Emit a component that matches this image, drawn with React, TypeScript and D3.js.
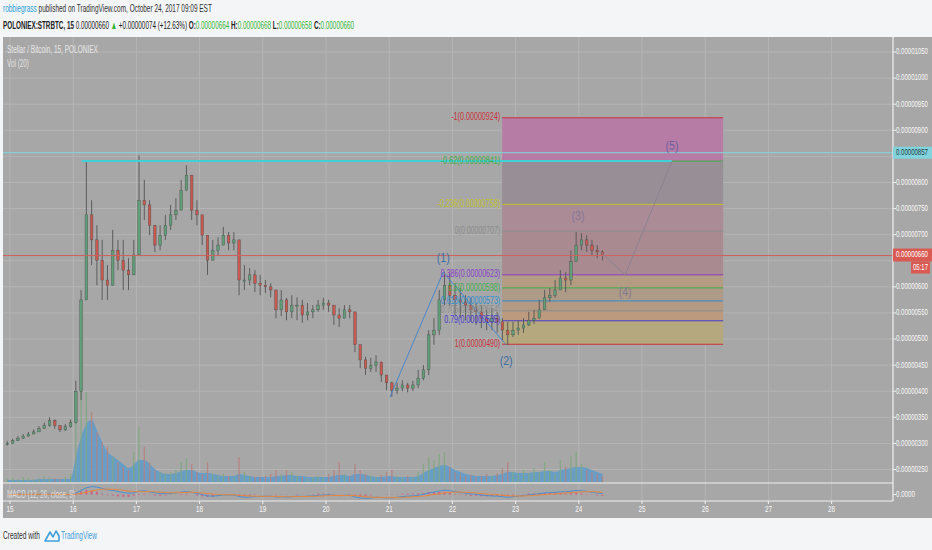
import React, { useRef, useEffect } from 'react';
import * as d3 from 'd3';

// 2-hour candles, first one starts Oct 14 22:00, prices in units of 1e-8 BTC
const closes = [
  300, 305, 310, 314, 318, 322, 328, 334, 344, 334, 326, 332, 340,
  400, 575, 738, 690, 651, 613, 603, 670, 651, 632, 623, 661,
  766, 757, 718, 680, 699, 718, 738, 747, 785, 814,
  747, 738, 699, 651, 670, 680, 699, 684, 690, 613,
  613, 623, 607, 603, 600, 594, 556, 575, 552, 565,
  565, 546, 552, 556, 565, 569, 565, 546, 540, 556, 552,
  489, 460, 444, 450, 456, 431, 416, 402, 406, 412, 406, 412,
  425, 441, 508, 517, 575, 603,
  584, 575, 571, 565, 556, 552, 540, 533, 540, 533, 517, 508,
  517, 521, 527, 536, 540, 556, 579, 584, 594, 617, 613, 648,
  680, 690, 680, 670, 667, 660,
];
const highs = [
  304, 309, 314, 318, 322, 327, 333, 340, 350, 346, 332, 337, 346,
  420, 594, 839, 766, 718, 690, 642, 709, 690, 690, 655, 690,
  852, 805, 766, 718, 718, 738, 757, 770, 805, 833,
  805, 766, 738, 690, 690, 695, 715, 705, 705, 674,
  642, 636, 632, 623, 613, 607, 588, 594, 579, 584,
  580, 575, 569, 565, 575, 579, 575, 565, 559, 565, 565,
  546, 479, 466, 464, 469, 450, 431, 418, 416, 421, 416, 420,
  441, 450, 517, 540, 594, 628,
  626, 605, 598, 584, 579, 569, 565, 556, 559, 552, 540, 533,
  533, 536, 540, 552, 556, 575, 594, 598, 613, 632, 628, 670,
  705, 703, 699, 690, 680, 670,
];
const lows = [
  296, 300, 305, 309, 313, 318, 322, 328, 332, 328, 322, 324, 330,
  338, 383, 575, 642, 603, 575, 575, 603, 632, 594, 594, 632,
  661, 728, 699, 667, 670, 690, 709, 728, 757, 785,
  728, 718, 680, 623, 655, 661, 680, 670, 670, 584,
  594, 603, 590, 584, 588, 580, 540, 544, 536, 540,
  536, 531, 536, 540, 552, 556, 552, 527, 523, 540, 540,
  475, 444, 431, 437, 437, 418, 402, 389, 395, 400, 398, 400,
  406, 421, 431, 489, 508, 565,
  565, 546, 540, 536, 533, 527, 521, 517, 517, 512, 498, 489,
  504, 508, 512, 525, 529, 540, 559, 571, 579, 598, 590, 603,
  648, 670, 667, 659, 655, 651,
];
const firstOpen = 298;

const volumes = [
  3, 4, 3, 5, 4, 3, 4, 6, 5, 4, 3, 5, 8,
  60, 100, 90, 70, 50, 40, 35, 25, 20, 15, 12, 30,
  55, 35, 20, 12, 10, 9, 10, 12, 20, 24,
  18, 10, 8, 20, 8, 6, 8, 6, 5, 25,
  10, 6, 5, 5, 6, 8, 12, 8, 12, 10,
  6, 5, 4, 5, 6, 5, 8, 12, 20, 8, 6,
  18, 12, 8, 6, 5, 7, 10, 12, 6, 5, 6, 5,
  10, 18, 25, 22, 28, 30,
  15, 10, 8, 6, 7, 5, 6, 8, 6, 9, 14, 20,
  10, 8, 12, 9, 14, 10, 20, 12, 8, 22, 15, 26,
  30, 18, 12, 10, 8, 6,
];
const volumeMA = [
  2, 2, 2, 2, 2, 2, 3, 3, 3, 3, 3, 3, 3,
  25, 45, 58, 62, 52, 40, 30, 26, 22, 18, 14, 17,
  22, 22, 18, 13, 10, 8, 8, 9, 11, 12,
  12, 10, 9, 9, 8, 7, 6, 6, 6, 8,
  7, 6, 5, 5, 5, 5, 6, 6, 7, 7,
  6, 6, 5, 5, 5, 5, 5, 6, 7, 7, 6,
  8, 8, 7, 6, 5, 5, 6, 6, 5, 5, 5, 5,
  6, 9, 12, 14, 16, 17,
  15, 12, 10, 8, 7, 6, 6, 6, 6, 7, 8, 10,
  10, 9, 9, 9, 10, 10, 11, 11, 10, 12, 13, 14,
  15, 15, 14, 12, 10, 8,
];
const macdLine = [
  1, 1, 1, 1, 1, 1, 1, 2, 2, 1, 0, 0, 1,
  10, 30, 50, 58, 55, 45, 35, 30, 22, 15, 10, 12,
  25, 28, 20, 12, 8, 8, 10, 12, 18, 22,
  16, 8, 0, -10, -12, -8, -4, -4, -3, -15,
  -20, -18, -15, -14, -12, -12, -18, -16, -18, -16,
  -12, -14, -12, -10, -6, -4, -3, -5, -8, -6, -4,
  -18, -25, -28, -25, -20, -22, -24, -24, -20, -15, -12, -10,
  -6, 0, 12, 18, 26, 32,
  28, 22, 15, 10, 5, 2, -4, -8, -10, -12, -16, -20,
  -16, -12, -8, -2, 2, 6, 12, 14, 16, 20, 20, 24,
  30, 28, 24, 18, 12, 8,
];
const signalLine = [
  1, 1, 1, 1, 1, 1, 1, 1, 1, 1, 1, 1, 1,
  3, 8, 16, 26, 34, 39, 40, 38, 35, 31, 26, 22,
  21, 22, 22, 20, 17, 15, 13, 13, 14, 16,
  16, 15, 12, 7, 3, 0, -1, -2, -2, -5,
  -8, -11, -12, -13, -13, -13, -14, -15, -16, -16,
  -15, -15, -14, -13, -12, -10, -8, -7, -7, -7, -6,
  -8, -12, -16, -19, -20, -21, -22, -23, -22, -21, -19, -17,
  -14, -11, -6, 0, 6, 12,
  16, 18, 18, 16, 14, 11, 8, 4, 1, -2, -5, -8,
  -10, -11, -10, -9, -6, -3, 0, 3, 6, 9, 12, 14,
  17, 20, 21, 21, 19, 17,
];

const dayLabels = ['15', '16', '17', '18', '19', '20', '21', '22', '23', '24', '25', '26', '27', '28'];
const priceTicks = [250, 300, 350, 400, 450, 500, 550, 600, 650, 700, 750, 800, 850, 900, 950, 1000, 1050];
const lastPrice = 660;
const markedPrice = 857;

// fibonacci extension drawing
const fibLevels = ['-1', '-0.62', '-0.236', '0', '0.386', '0.5', '0.618', '0.705', '0.79', '1'];
const fibPrices = [924, 841, 758, 707, 623, 598, 573, 554, 535, 490];
const fibColors = ['#c8323c', '#3fae49', '#c2c22a', '#8c8c8c', '#8a3cc8', '#3fae49', '#2e8fd0', '#8c8c8c', '#4a3acb', '#c8323c'];
const fibFills = ['#b77ca6', '#978f95', '#ab8b95', '#a88a90', '#b49c82', '#ad9b88', '#b59a83', '#bb9a7e', '#b5a87e'];
const fibStartHour = 186.9;
const fibEndHour = 270.8;

// elliott wave drawing (hours from Oct 15 00:00, price)
const impulseHours = [144.3, 164.5, 188.4];
const impulsePrices = [389, 628, 489];
const projectionHours = [223.6, 233.6, 251.4];
const projectionPrices = [670, 623, 841];
const waveLabels = ['(1)', '(2)', '(3)', '(4)', '(5)'];
const waveHours = [164.5, 188.4, 215.7, 233.6, 251.4];
const wavePrices = [628, 489, 707, 623, 841];
const waveOffsets = [-14, 17, -14, 18, -15];
const waveColors = ['#3d6fa8', '#3d6fa8', '#85779a', '#85778d', '#6e5fa0'];

const FONT = '"Liberation Sans Narrow", "Arial Narrow", "Liberation Sans", Arial, sans-serif';

type Sel = d3.Selection<SVGSVGElement, unknown, null, undefined>;
type G = d3.Selection<SVGGElement, unknown, null, undefined>;

const fit = (t: d3.Selection<SVGTextElement, unknown, null, undefined>, x: number, y: number, len: number) => {
  if (len) {
    const w = (t.node() as SVGTextElement).getComputedTextLength();
    if (w > 0) t.attr('transform', `translate(${x},${y}) scale(${len / w},1)`);
  }
  return t;
};

// text squeezed horizontally to a measured width (the original uses a condensed font)
const txt = (g: G, x: number, y: number, s: string, size: number, fill: string, len = 0, anchor = 'start') => {
  const t = g.append('text')
    .attr('x', 0).attr('y', 0)
    .attr('font-family', FONT)
    .attr('font-size', size)
    .attr('fill', fill)
    .attr('text-anchor', anchor)
    .attr('dominant-baseline', 'middle')
    .attr('transform', `translate(${x},${y})`)
    .text(s);
  return fit(t, x, y, len);
};

const createChart = (svg: Sel): void => {
  svg.selectAll('*').remove();
  const W = 932;
  const plotL = 3, plotR = 893, top = 37, priceBottom = 483, macdBottom = 501, axisBottom = 518;

  const x = d3.scaleLinear().domain([0, 312]).range([10, 831.6]);
  const y = d3.scaleLinear().domain([250, 1050]).range([469.5, 52]);
  const yVol = d3.scaleLinear().domain([0, 100]).range([482, 382]);
  const yMacd = d3.scaleLinear().domain([-40, 70]).range([500, 485]);

  const root = svg.append('g');
  root.append('rect').attr('width', W).attr('height', 550).attr('fill', '#f3f5f6');

  // header
  const h1 = txt(root, 3, 10, '', 11, '#333');
  h1.append('tspan').attr('fill', '#2e9fd8').text('robbiegrass');
  h1.append('tspan').text(' published on TradingView.com, October 24, 2017 09:09 EST');
  fit(h1, 3, 10, 209);
  const h2 = txt(root, 3, 27, '', 11, '#222').attr('font-weight', 'bold');
  const green = '#35b335';
  h2.append('tspan').text('POLONIEX:STRBTC, 15 ');
  h2.append('tspan').attr('font-weight', 'normal').text('0.00000660 ');
  h2.append('tspan').attr('fill', green).text('\u25B2');
  h2.append('tspan').attr('font-weight', 'normal').text(' +0.00000074 (+12.63%) ');
  [['O:', '0.00000664 '], ['H:', '0.00000668 '], ['L:', '0.00000658 '], ['C:', '0.00000660']].forEach(([k, v]) => {
    h2.append('tspan').text(k);
    h2.append('tspan').attr('fill', green).attr('font-weight', 'normal').text(v);
  });
  fit(h2, 3, 27, 351);

  // chart background
  root.append('rect').attr('x', plotL).attr('y', top).attr('width', W - plotL).attr('height', axisBottom - top).attr('fill', '#a7a7a7');

  const plot = root.append('g');
  const clipId = 'plotclip';
  svg.append('defs').append('clipPath').attr('id', clipId)
    .append('rect').attr('x', plotL).attr('y', top).attr('width', plotR - plotL).attr('height', priceBottom - top);

  // grid
  priceTicks.forEach(p => {
    plot.append('line').attr('x1', plotL).attr('x2', plotR).attr('y1', y(p)).attr('y2', y(p))
      .attr('stroke', '#b4b4b4').attr('stroke-width', 1);
  });
  dayLabels.forEach((_, i) => {
    plot.append('line').attr('x1', x(i * 24)).attr('x2', x(i * 24)).attr('y1', top).attr('y2', macdBottom)
      .attr('stroke', '#b4b4b4').attr('stroke-width', 1);
  });

  const main = plot.append('g').attr('clip-path', `url(#${clipId})`);

  // fib bands
  const fx1 = x(fibStartHour), fx2 = x(fibEndHour);
  fibFills.forEach((c, i) => {
    main.append('rect').attr('x', fx1).attr('width', fx2 - fx1)
      .attr('y', y(fibPrices[i])).attr('height', y(fibPrices[i + 1]) - y(fibPrices[i]))
      .attr('fill', c);
  });
  fibPrices.forEach((p, i) => {
    main.append('line').attr('x1', fx1).attr('x2', fx2).attr('y1', y(p)).attr('y2', y(p))
      .attr('stroke', fibColors[i]).attr('stroke-width', 1);
  });

  // volume
  const n = closes.length;
  const idx = d3.range(n);
  const opens = idx.map(i => (i === 0 ? firstOpen : closes[i - 1]));
  const mid = (i: number) => x(-2 + 2 * i + 1);
  const volArea = d3.area<number>()
    .x(i => mid(i)).y0(yVol(0)).y1(i => yVol(volumeMA[i]))
    .curve(d3.curveMonotoneX);
  main.append('path').datum(idx).attr('d', volArea).attr('fill', '#5d9ccb').attr('fill-opacity', 0.85);
  main.selectAll('.vol').data(idx).enter().append('rect')
    .attr('class', 'vol')
    .attr('x', i => mid(i) - 0.7).attr('width', 1.4)
    .attr('y', i => yVol(volumes[i])).attr('height', i => yVol(0) - yVol(volumes[i]))
    .attr('fill', i => (closes[i] >= opens[i] ? '#7fa77f' : '#b88080'))
    .attr('opacity', 0.8);

  // candles
  const up = '#5f9e78', down = '#c9594f';
  const cg = main.append('g');
  cg.selectAll('.wick').data(idx).enter().append('line')
    .attr('x1', i => mid(i)).attr('x2', i => mid(i))
    .attr('y1', i => y(Math.max(highs[i], opens[i], closes[i])))
    .attr('y2', i => y(Math.min(lows[i], opens[i], closes[i])))
    .attr('stroke', '#555').attr('stroke-width', 0.9);
  cg.selectAll('.body').data(idx).enter().append('rect')
    .attr('x', i => mid(i) - 1.3).attr('width', 2.6)
    .attr('y', i => y(Math.max(opens[i], closes[i])))
    .attr('height', i => Math.max(1, Math.abs(y(opens[i]) - y(closes[i]))))
    .attr('fill', i => (closes[i] >= opens[i] ? up : down))
    .attr('stroke', '#4d4d4d').attr('stroke-width', 0.4);

  // horizontal lines
  main.append('line').attr('x1', plotL).attr('x2', plotR).attr('y1', y(markedPrice)).attr('y2', y(markedPrice))
    .attr('stroke', '#7fd6e0').attr('stroke-width', 1);
  main.append('line').attr('x1', x(27.3)).attr('x2', x(251.4)).attr('y1', y(841)).attr('y2', y(841))
    .attr('stroke', '#3fd0d8').attr('stroke-width', 2);
  main.append('line').attr('x1', plotL).attr('x2', plotR).attr('y1', y(lastPrice)).attr('y2', y(lastPrice))
    .attr('stroke', '#d0625c').attr('stroke-width', 1);

  // elliott waves
  const wl = d3.line<number>();
  main.append('path')
    .attr('d', wl(impulseHours.map((h, i) => [x(h), y(impulsePrices[i])] as [number, number])))
    .attr('fill', 'none').attr('stroke', '#4a86c8').attr('stroke-width', 1);
  main.append('path')
    .attr('d', wl(projectionHours.map((h, i) => [x(h), y(projectionPrices[i])] as [number, number])))
    .attr('fill', 'none').attr('stroke', '#8e8090').attr('stroke-width', 1);
  const mg = main.append('g');
  waveLabels.forEach((s, i) => {
    txt(mg, x(waveHours[i]), y(wavePrices[i]) + waveOffsets[i], s, 13, waveColors[i], 13, 'middle');
  });

  // fib labels
  fibLevels.forEach((lv, i) => {
    const s = `${lv}(${(fibPrices[i] * 1e-8).toFixed(8)})`;
    txt(mg, fx1 - 2, y(fibPrices[i]), s, 10, fibColors[i], s.length * 3.5, 'end');
  });

  // MACD pane
  const mline = (arr: number[]) => d3.line<number>().x(i => mid(i)).y(i => yMacd(arr[i]))(idx);
  plot.selectAll('.hist').data(idx).enter().append('rect')
    .attr('x', i => mid(i) - 1).attr('width', 2)
    .attr('y', i => Math.min(yMacd(0), yMacd(macdLine[i] - signalLine[i])))
    .attr('height', i => Math.abs(yMacd(0) - yMacd(macdLine[i] - signalLine[i])))
    .attr('fill', '#d8507a').attr('opacity', 0.8);
  plot.append('path').attr('d', mline(macdLine)).attr('fill', 'none').attr('stroke', '#4a8fd6').attr('stroke-width', 1);
  plot.append('path').attr('d', mline(signalLine)).attr('fill', 'none').attr('stroke', '#e8873a').attr('stroke-width', 1);

  // separators
  const sep = '#f0f0f0';
  root.append('line').attr('x1', plotL).attr('x2', plotR).attr('y1', priceBottom).attr('y2', priceBottom).attr('stroke', sep).attr('stroke-width', 1.2);
  root.append('line').attr('x1', plotL).attr('x2', plotR).attr('y1', macdBottom).attr('y2', macdBottom).attr('stroke', sep).attr('stroke-width', 1.2);
  root.append('line').attr('x1', plotR).attr('x2', plotR).attr('y1', top).attr('y2', macdBottom).attr('stroke', sep).attr('stroke-width', 1.2);

  // right axis (tick labels hidden under the price markers are left out, as in the original)
  const ax = root.append('g');
  priceTicks.forEach(p => {
    ax.append('line').attr('x1', plotR).attr('x2', plotR + 3).attr('y1', y(p)).attr('y2', y(p)).attr('stroke', sep);
    const covered = Math.abs(y(p) - y(markedPrice)) < 10 || Math.abs(y(p) - y(lastPrice)) < 12;
    if (!covered) txt(ax, 896, y(p), (p * 1e-8).toFixed(8), 9, '#f7f7f7', 32);
  });
  ax.append('line').attr('x1', plotR).attr('x2', plotR + 3).attr('y1', yMacd(0)).attr('y2', yMacd(0)).attr('stroke', sep);
  txt(ax, 896, yMacd(0), '0.0000', 9, '#f7f7f7', 19);

  ax.append('rect').attr('x', plotR).attr('y', y(markedPrice) - 6).attr('width', W - plotR).attr('height', 12).attr('fill', '#83d3dc');
  txt(ax, 896, y(markedPrice), (markedPrice * 1e-8).toFixed(8), 9, '#1f3a44', 32);
  ax.append('rect').attr('x', plotR).attr('y', y(lastPrice) - 7).attr('width', W - plotR).attr('height', 13).attr('fill', '#d85a52');
  txt(ax, 896, y(lastPrice) - 0.5, (lastPrice * 1e-8).toFixed(8), 9, '#ffffff', 32);
  ax.append('rect').attr('x', 911).attr('y', y(lastPrice) + 6).attr('width', 19).attr('height', 12).attr('fill', '#d85a52');
  txt(ax, 913, y(lastPrice) + 12.5, '05:17', 9, '#ffffff', 15);

  // time axis
  dayLabels.forEach((d, i) => {
    ax.append('line').attr('x1', x(i * 24)).attr('x2', x(i * 24)).attr('y1', macdBottom).attr('y2', macdBottom + 3).attr('stroke', sep);
    txt(ax, x(i * 24), 510, d, 9, '#f7f7f7', 7, 'middle');
  });

  // pane legends
  txt(ax, 7, 50, 'Stellar / Bitcoin, 15, POLONIEX', 10, '#f2f2f2', 91).attr('opacity', 0.85);
  txt(ax, 7, 64, 'Vol (20)', 10, '#f2f2f2', 22).attr('opacity', 0.75);
  txt(ax, 7, 495, 'MACD (12, 26, close, 9)', 10, '#f2f2f2', 68).attr('opacity', 0.75);

  // footer
  txt(root, 3, 536, 'Created with', 11, '#333', 37);
  root.append('path').attr('d', 'M45,541 L50,532 L53,537 L56,531 L59,536 L59,541 Z')
    .attr('fill', 'none').attr('stroke', '#3fa0dc').attr('stroke-width', 1.6).attr('stroke-linejoin', 'round');
  txt(root, 61, 536, 'TradingView', 11, '#3fa0dc', 36);
};

const App: React.FC = () => {
  const ref = useRef<SVGSVGElement>(null);
  useEffect(() => {
    if (ref.current) createChart(d3.select(ref.current) as Sel);
  }, []);
  return (
    <svg
      ref={ref}
      width={932}
      height={550}
      style={{ position: 'absolute', left: 0, top: 0, display: 'block' }}
    />
  );
};

export default App;
